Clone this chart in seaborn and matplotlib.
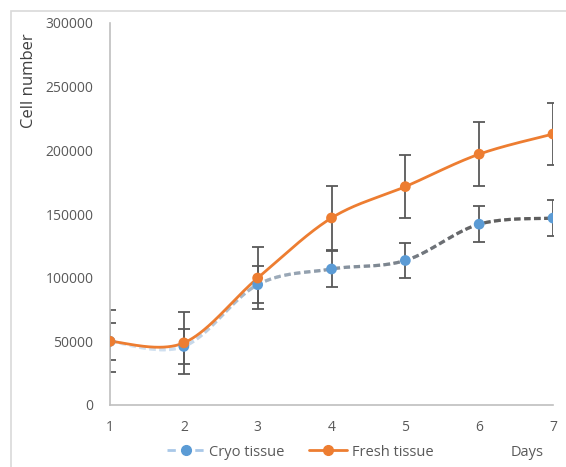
import numpy as np
import pandas as pd
import matplotlib.pyplot as plt
import seaborn as sns
from matplotlib.collections import LineCollection
from matplotlib.colors import LinearSegmentedColormap
from matplotlib.lines import Line2D
from matplotlib.patches import Rectangle

# values
days = [1, 2, 3, 4, 5, 6, 7]
cryo = [50000, 46000, 94500, 106800, 113500, 142000, 146800]
cryo_err = [14300, 14000, 14500, 14000, 14000, 14000, 14000]
fresh = [50000, 48800, 99700, 146900, 171500, 197000, 212800]
fresh_err = [24300, 24300, 24500, 25000, 24700, 25000, 24500]

df = pd.DataFrame({'Day': days * 2,
                   'Cells': cryo + fresh,
                   'Err': cryo_err + fresh_err,
                   'Tissue': ['Cryo tissue'] * 7 + ['Fresh tissue'] * 7})

blue = '#5B9BD5'
orange = '#ED7D31'
txt = '#595959'

sns.set_style('white')
plt.rcParams['font.family'] = ['Open Sans', 'DejaVu Sans']

fig = plt.figure(figsize=(5.66, 4.67), dpi=100)
ax = fig.add_axes([110 / 566, 62 / 467, 443 / 566, 382 / 467])
ax.set_xlim(1, 7)
ax.set_ylim(0, 300000)


def smooth(x, y, n=60):
    # excel-like smoothing (catmull-rom bezier)
    x = np.asarray(x, float)
    y = np.asarray(y, float)
    p = np.column_stack([x, y])
    pp = np.vstack([p[0], p, p[-1]])
    out = []
    t = np.linspace(0, 1, n)[:, None]
    for i in range(len(p) - 1):
        p0, p1, p2, p3 = pp[i], pp[i + 1], pp[i + 2], pp[i + 3]
        b1 = p1 + (p2 - p0) / 6
        b2 = p2 - (p3 - p1) / 6
        seg = ((1 - t) ** 3) * p1 + 3 * ((1 - t) ** 2) * t * b1 + 3 * (1 - t) * t ** 2 * b2 + t ** 3 * p2
        out.append(seg if i == 0 else seg[1:])
    return np.vstack(out)


# error bars
ax.errorbar(days, cryo, yerr=cryo_err, fmt='none', ecolor=txt, elinewidth=1.3,
            capsize=4, capthick=1.3, zorder=2)
ax.errorbar(days, fresh, yerr=fresh_err, fmt='none', ecolor=txt, elinewidth=1.3,
            capsize=4, capthick=1.3, zorder=2)

# cryo: dashed line with gradient colour
cmap = LinearSegmentedColormap.from_list('cryo', [
    (0.0, '#c9ddf0'), (1 / 6, '#b9d1ea'), (2 / 6, '#7f95ab'), (3 / 6, '#5b6d80'),
    (4 / 6, '#434e5a'), (5 / 6, '#242424'), (1.0, '#1a1a1a')])
cs = smooth(days, cryo, n=200)
pix = ax.transData.transform(cs)
s = np.concatenate([[0], np.cumsum(np.hypot(*np.diff(pix, axis=0).T))])
mid = (s[:-1] + s[1:]) / 2
on, period = 6.5, 10.0
keep = (mid % period) < on
segs = np.stack([cs[:-1], cs[1:]], axis=1)[keep]
xm = ((cs[:-1, 0] + cs[1:, 0]) / 2)[keep]
lc = LineCollection(segs, colors=cmap((xm - 1) / 6), linewidths=2.3, capstyle='butt', zorder=3)
ax.add_collection(lc)

# fresh: solid smooth line
fs = smooth(days, fresh)
ax.plot(fs[:, 0], fs[:, 1], color=orange, lw=2.0, zorder=3.5)

sns.scatterplot(data=df, x='Day', y='Cells', hue='Tissue', palette=[blue, orange],
                s=60, edgecolor='none', legend=False, ax=ax, zorder=4)

ax.set_xticks(days)
ax.set_yticks(np.arange(0, 300001, 50000))
ax.tick_params(axis='both', length=0, labelsize=10, labelcolor=txt)
ax.tick_params(axis='x', pad=11)
ax.tick_params(axis='y', pad=12)
for side in ['top', 'right']:
    ax.spines[side].set_visible(False)
for side in ['left', 'bottom']:
    ax.spines[side].set_color('#bfbfbf')
    ax.spines[side].set_linewidth(1.2)
ax.set_xlabel('')
ax.set_ylabel('Cell number', fontsize=12, color='#404040')
ax.yaxis.set_label_coords(-0.165, 0.85)

handles = [Line2D([0], [0], color='#a9c8e8', ls=(0, (3, 2)), lw=2, marker='o',
                  markerfacecolor=blue, markeredgecolor=blue, markersize=7),
           Line2D([0], [0], color=orange, lw=2, marker='o',
                  markerfacecolor=orange, markeredgecolor=orange, markersize=7)]
fig.legend(handles, ['Cryo tissue', 'Fresh tissue'], loc='center left',
           bbox_to_anchor=(167 / 566, 1 - 452 / 467), ncol=2, frameon=False,
           fontsize=10.5, labelcolor=txt, handlelength=2.6, handletextpad=0.3,
           columnspacing=1.7, borderaxespad=0, borderpad=0)
fig.text(527 / 566, 1 - 452 / 467, 'Days', fontsize=10.5, color=txt, ha='center', va='center')

fig.patches.append(Rectangle((11 / 566, -0.1), 1.2, 1 - 11 / 467 + 0.1, transform=fig.transFigure,
                             fill=False, edgecolor='#d9d9d9', lw=1.2))

fig.savefig('out.png', dpi=100)
